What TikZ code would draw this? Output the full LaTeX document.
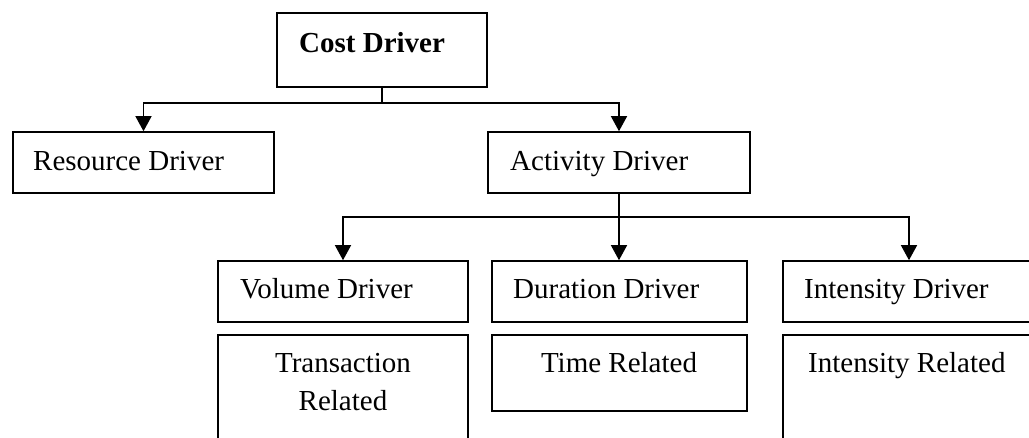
\documentclass[tikz,border=0pt]{standalone}
\usepackage{fontspec}
\setmainfont{Liberation Serif}
\usetikzlibrary{arrows.meta}
\tikzset{
  box/.style={draw, line width=1.6pt, inner sep=0pt, rectangle},
  lbl/.style={inner sep=0pt, font=\fontsize{29}{34}\selectfont},
  link/.style={line width=1.4pt},
  arr/.style={link, -{Triangle[width=16pt,length=15pt]}},
}
% box from corner (x1,y1) to (x2,y2), y measured downwards
\newcommand{\boxat}[5]{%
  \node[box, minimum width={(#4-#2)*1pt}, minimum height={(#5-#3)*1pt}]
    (#1) at ({(#2+#4)/2},{(#3+#5)/2}) {};}
\begin{document}
\begin{tikzpicture}[x=1pt,y=-1pt]
\useasboundingbox (0,0) rectangle (1029,437);
\clip (0,0) rectangle (1029,437);

% boxes
\boxat{cost}{277}{13}{487}{87}
\boxat{res}{13}{132}{274}{193}
\boxat{act}{488}{132}{750}{193}
\boxat{vol}{218}{261}{468}{322}
\boxat{dur}{492}{261}{747}{322}
\boxat{int}{783}{261}{1035}{322}
\boxat{tran}{218}{335}{468}{480}
\boxat{time}{492}{335}{747}{411}
\boxat{intr}{783}{335}{1035}{480}

% labels
\node[lbl, anchor=base west, font=\fontsize{29}{34}\selectfont\bfseries] (tcost) at (299,52) {Cost Driver};
\node[lbl, anchor=base west] (tres) at (33,170) {Resource Driver};
\node[lbl, anchor=base west] (tact) at (510,170) {Activity Driver};
\node[lbl, anchor=base west] (tvol) at (240,298) {Volume Driver};
\node[lbl, anchor=base west] (tdur) at (513,298) {Duration Driver};
\node[lbl, anchor=base west] (tint) at (804,298) {Intensity Driver};
\node[lbl, anchor=base] (ttran) at (343,372) {Transaction};
\node[lbl, anchor=base] (ttran2) at (343,410) {Related};
\node[lbl, anchor=base] (ttime) at (619,372) {Time Related};
\node[lbl, anchor=base west] (tintr) at (808,372) {Intensity Related};

% connectors
\coordinate (j1) at (cost.south |- 0,103);
\coordinate (j2) at (act.south |- 0,217);
\draw[link] (cost.south) -- (j1);
\draw[arr] (j1) -| (res.north);
\draw[arr] (j1) -| (act.north);
\draw[arr] (act.south) -- (act.south |- dur.north);
\draw[arr] (j2) -| (vol.north);
\draw[arr] (j2) -| (int.north);
\end{tikzpicture}
\end{document}
